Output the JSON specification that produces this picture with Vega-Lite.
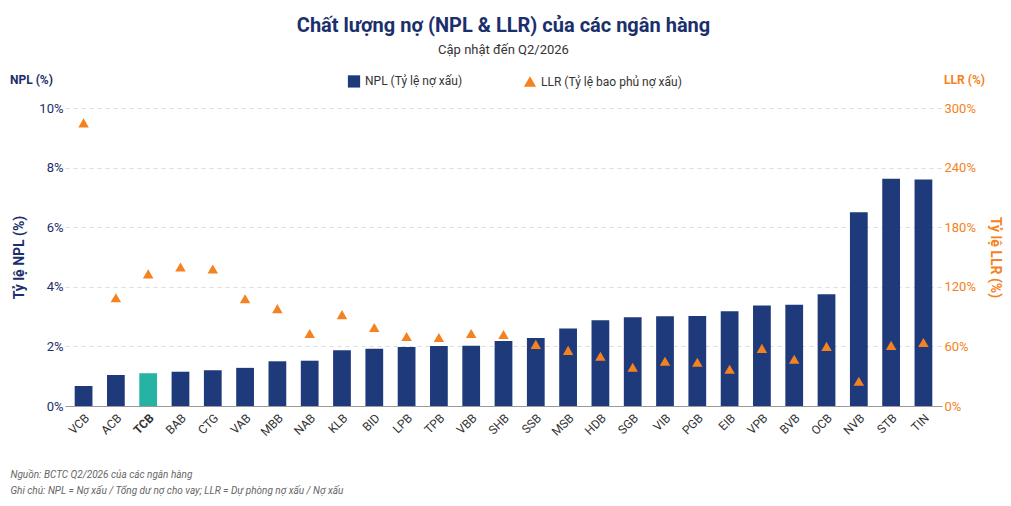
{
  "$schema": "https://vega.github.io/schema/vega-lite/v6.json",
  "width": 877,
  "height": 298,
  "padding": {"left": 10, "right": 10, "top": 16, "bottom": 5},
  "background": "white",
  "config": {"font": "Roboto", "view": {"stroke": null}},
  "title": {
    "text": "Chất lượng nợ (NPL & LLR) của các ngân hàng",
    "subtitle": "Cập nhật đến Q2/2026",
    "fontSize": 20, "fontWeight": "bold", "color": "#1a2f6b",
    "subtitleFontSize": 13, "subtitleColor": "#333", "subtitlePadding": 8,
    "anchor": "middle", "offset": 17
  },
  "data": {"values": [
    {"bank": "VCB", "npl": 0.67, "llr": 285},
    {"bank": "ACB", "npl": 1.04, "llr": 109},
    {"bank": "TCB", "npl": 1.1, "llr": 133},
    {"bank": "BAB", "npl": 1.15, "llr": 140},
    {"bank": "CTG", "npl": 1.2, "llr": 138},
    {"bank": "VAB", "npl": 1.28, "llr": 108},
    {"bank": "MBB", "npl": 1.5, "llr": 98},
    {"bank": "NAB", "npl": 1.52, "llr": 73},
    {"bank": "KLB", "npl": 1.87, "llr": 92},
    {"bank": "BID", "npl": 1.92, "llr": 79},
    {"bank": "LPB", "npl": 1.98, "llr": 70},
    {"bank": "TPB", "npl": 2.01, "llr": 69},
    {"bank": "VBB", "npl": 2.02, "llr": 73},
    {"bank": "SHB", "npl": 2.18, "llr": 72},
    {"bank": "SSB", "npl": 2.28, "llr": 62},
    {"bank": "MSB", "npl": 2.6, "llr": 56},
    {"bank": "HDB", "npl": 2.88, "llr": 50},
    {"bank": "SGB", "npl": 2.98, "llr": 39},
    {"bank": "VIB", "npl": 3.01, "llr": 45},
    {"bank": "PGB", "npl": 3.02, "llr": 44},
    {"bank": "EIB", "npl": 3.18, "llr": 37},
    {"bank": "VPB", "npl": 3.37, "llr": 58},
    {"bank": "BVB", "npl": 3.4, "llr": 47},
    {"bank": "OCB", "npl": 3.75, "llr": 60},
    {"bank": "NVB", "npl": 6.5, "llr": 25},
    {"bank": "STB", "npl": 7.63, "llr": 61},
    {"bank": "TIN", "npl": 7.6, "llr": 64}
  ]},
  "encoding": {
    "x": {
      "field": "bank", "type": "nominal", "sort": null,
      "scale": {"paddingInner": 0.45, "paddingOuter": 0.3},
      "axis": {
        "labelAngle": -45, "labelFontSize": 12, "labelColor": "#333",
        "labelFontWeight": {"condition": {"test": "datum.value == 'TCB'", "value": "bold"}, "value": "normal"},
        "domainColor": "#999", "ticks": false, "labelPadding": 6,
        "title": ["Nguồn: BCTC Q2/2026 của các ngân hàng", "Ghi chú: NPL = Nợ xấu / Tổng dư nợ cho vay; LLR = Dự phòng nợ xấu / Nợ xấu"],
        "titleAnchor": "start", "titleAlign": "left", "titleX": -55, "titlePadding": 32,
        "titleFontSize": 10, "titleFontStyle": "italic", "titleFontWeight": "normal", "titleColor": "#666", "titleLineHeight": 16
      }
    }
  },
  "layer": [
    {
      "mark": {"type": "bar"},
      "encoding": {
        "y": {
          "field": "npl", "type": "quantitative",
          "scale": {"domain": [0, 10]},
          "axis": {
            "values": [0, 2, 4, 6, 8, 10], "labelExpr": "datum.value + '%'",
            "labelColor": "#1a2f6b", "labelFontSize": 13, "grid": true,
            "gridDash": [4, 4], "gridColor": "#ddd", "domain": false, "ticks": false,
            "title": "Tỷ lệ NPL (%)", "titleColor": "#1a2f6b", "titleFontSize": 14, "titleFontWeight": "bold", "titlePadding": 12
          }
        },
        "color": {
          "condition": {"test": "datum.bank == 'TCB'", "value": "#26b3a3"},
          "datum": "NPL (Tỷ lệ nợ xấu)",
          "scale": {"domain": ["NPL (Tỷ lệ nợ xấu)", "LLR (Tỷ lệ bao phủ nợ xấu)"], "range": ["#1f3a7a", "#f58220"]},
          "legend": {
            "title": null, "orient": "none", "legendX": 282, "legendY": -34, "direction": "horizontal", "labelFontSize": 12, "labelColor": "#333",
            "columnPadding": 60, "symbolSize": 150,
            "encode": {"symbols": {"update": {"shape": {"signal": "datum.label == 'NPL (Tỷ lệ nợ xấu)' ? 'square' : 'triangle-up'"}}}}
          }
        }
      }
    },
    {
      "mark": {"type": "point", "shape": "triangle-up", "filled": true, "size": 110, "opacity": 1, "color": "#f58220"},
      "encoding": {
        "y": {
          "field": "llr", "type": "quantitative",
          "scale": {"domain": [0, 300]},
          "axis": {
            "orient": "right", "values": [0, 60, 120, 180, 240, 300], "labelExpr": "datum.value + '%'",
            "labelColor": "#f58220", "labelFontSize": 13, "grid": false, "domain": false, "ticks": false,
            "title": "Tỷ lệ LLR (%)", "titleColor": "#f58220", "titleFontSize": 14, "titleFontWeight": "bold", "titlePadding": 12
          }
        }
      }
    },
    {
      "data": {"values": [{"t": "NPL (%)"}]},
      "mark": {"type": "text", "fontWeight": "bold", "fontSize": 12, "color": "#1a2f6b", "align": "left"},
      "encoding": {"text": {"field": "t"}, "x": {"value": -55}, "y": {"value": -28}}
    },
    {
      "data": {"values": [{"t": "LLR (%)"}]},
      "mark": {"type": "text", "fontWeight": "bold", "fontSize": 12, "color": "#f58220", "align": "right"},
      "encoding": {"text": {"field": "t"}, "x": {"value": 920}, "y": {"value": -28}}
    }
  ],
  "resolve": {"scale": {"y": "independent"}, "axis": {"y": "independent"}}
}
